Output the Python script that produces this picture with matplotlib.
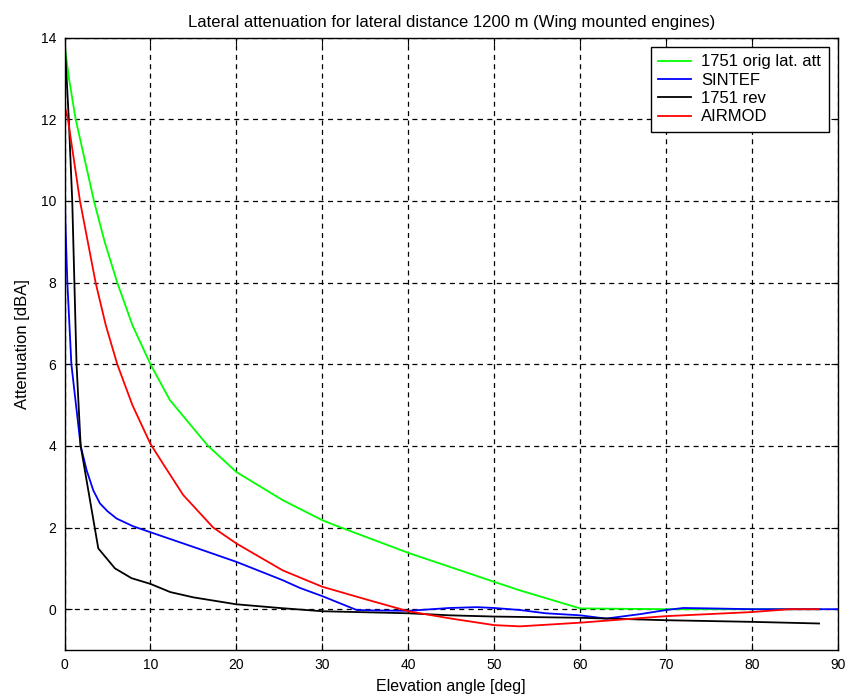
import matplotlib
matplotlib.use("Agg")
import matplotlib.pyplot as plt

plt.rcParams['font.family'] = ['Liberation Sans', 'DejaVu Sans']

# Data
orig_x = [0, 0.52, 1.3, 3.43, 4.67, 6.14, 7.9, 10, 12.27, 16.7, 18.0, 20, 25.4, 30, 31.8,
          40, 44.8, 50, 53, 60, 70, 88]
orig_y = [13.85, 13.0, 12.0, 10.0, 9.0, 8.0, 6.96, 6.0, 5.12, 4.0, 3.75, 3.36, 2.67, 2.18, 2.03,
          1.38, 1.04, 0.67, 0.46, 0.02, 0.0, 0.0]

sintef_x = [0, 0.1, 0.33, 0.8, 1.88, 2.58, 3.35, 4.13, 5.0, 6.07, 8.0, 9.94, 15.76, 20, 25.4, 27.4,
            30, 34, 36, 40, 44.8, 48, 50, 53, 56, 60, 63, 67, 70, 72, 75, 80, 90]
sintef_y = [11.0, 9.5, 8.0, 6.0, 4.0, 3.4, 2.91, 2.59, 2.4, 2.22, 2.03, 1.89, 1.47, 1.16, 0.71, 0.52,
            0.32, -0.02, -0.03, -0.04, 0.03, 0.05, 0.03, -0.02, -0.10, -0.15, -0.23, -0.12, -0.02,
            0.03, 0.02, 0.0, 0.0]

rev_x = [0, 0.5, 0.9, 1.15, 1.4, 1.88, 3.93, 5.87, 7.8, 10, 12.3, 15, 20, 25, 30,
         40, 44.8, 50, 60, 70, 80, 87.8]
rev_y = [14.0, 12.0, 10.0, 8.0, 6.0, 4.0, 1.49, 1.0, 0.76, 0.62, 0.42, 0.29, 0.12, 0.03, -0.05,
         -0.10, -0.15, -0.18, -0.21, -0.27, -0.31, -0.35]

airmod_x = [0, 0.4, 1.8, 3.62, 4.8, 6.14, 7.9, 10, 11.2, 13.8, 17.3, 20, 25.4, 30, 35.1, 40,
            45, 50, 53, 60, 70, 80, 84.4, 87.8]
airmod_y = [12.35, 12.0, 10.0, 8.0, 6.96, 6.0, 5.0, 4.05, 3.65, 2.8, 2.0, 1.61, 0.95, 0.55, 0.24,
            -0.05, -0.23, -0.39, -0.42, -0.33, -0.17, -0.07, 0.0, 0.0]

x_ticks = list(range(0, 91, 10))
y_ticks = list(range(0, 15, 2))

fig = plt.figure(figsize=(8.51, 6.97), dpi=100)
ax = fig.add_axes([0.0758, 0.0674, 0.9089, 0.8785])

ax.plot(orig_x, orig_y, color=(0, 1, 0), lw=1.3, label='1751 orig lat. att')
ax.plot(sintef_x, sintef_y, color=(0, 0, 1), lw=1.3, label='SINTEF')
ax.plot(rev_x, rev_y, color='black', lw=1.3, label='1751 rev')
ax.plot(airmod_x, airmod_y, color=(1, 0, 0), lw=1.3, label='AIRMOD')

ax.set_xlim(0, 90)
ax.set_ylim(-1, 14)
ax.set_xticks(x_ticks)
ax.set_yticks(y_ticks)
ax.tick_params(direction='in', top=True, right=True, labelsize=10, length=5, width=0.8, pad=6)
ax.grid(True, color='black', linestyle=(0, (4, 3.5)), linewidth=0.9)
for s in ax.spines.values():
    s.set_linewidth(1.0)

ax.set_title('Lateral attenuation for lateral distance 1200 m (Wing mounted engines)',
             fontsize=12, pad=8)
ax.set_xlabel('Elevation angle [deg]', fontsize=11.5, labelpad=5)
ax.set_ylabel('Attenuation [dBA]', fontsize=12, labelpad=8)

leg = ax.legend(loc='upper right', fontsize=12, fancybox=False, framealpha=1,
                edgecolor='black', borderaxespad=0.55, handlelength=2.0,
                handletextpad=0.6, labelspacing=0.2, borderpad=0.45)
leg.get_frame().set_linewidth(1.0)

fig.savefig('out.png', dpi=100)
